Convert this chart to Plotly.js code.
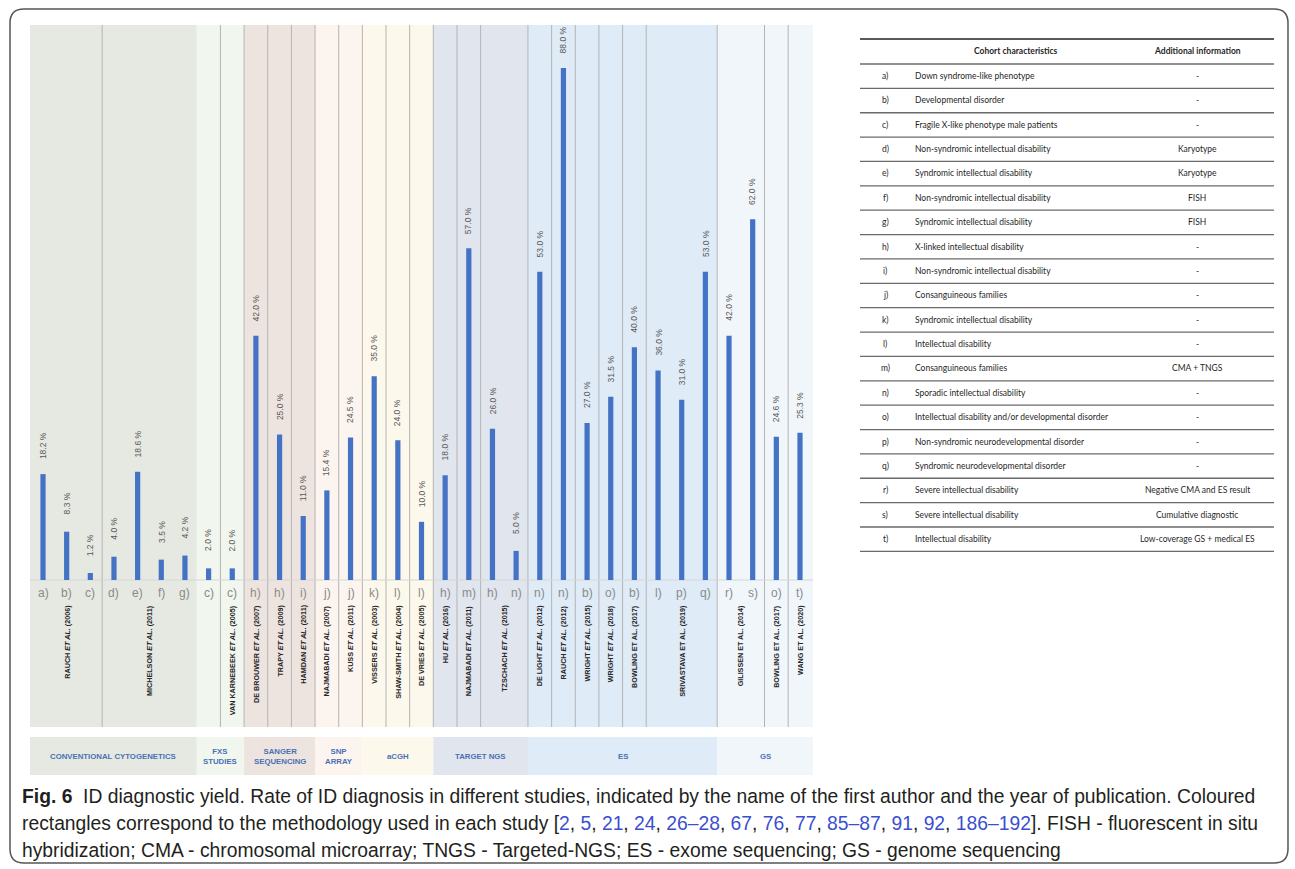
<!DOCTYPE html>
<html>
<head>
<meta charset="utf-8">
<script src="https://cdn.plot.ly/plotly-3.0.1.min.js"></script>
<style>html,body{margin:0;padding:0;background:#fff;}#chart{width:1295px;height:869px;}</style>
</head>
<body>
<div id="chart"></div>
<script>
// ---------------- DATA ----------------
const cohortLetters = ['a)','b)','c)','d)','e)','f)','g)','c)','c)','h)','h)','i)','j)','j)','k)','l)','l)','h)','m)','h)','n)','n)','n)','b)','o)','b)','l)','p)','q)','r)','s)','o)','t)'];
const yields = [18.2,8.3,1.2,4.0,18.6,3.5,4.2,2.0,2.0,42.0,25.0,11.0,15.4,24.5,35.0,24.0,10.0,18.0,57.0,26.0,5.0,53.0,88.0,27.0,31.5,40.0,36.0,31.0,53.0,42.0,62.0,24.6,25.3];

const studyAuthors = ['RAUCH','MICHELSON','','VAN KARNEBEEK','DE BROUWER','TRAPY','HAMDAN','NAJMABADI','KUSS','VISSERS','SHAW-SMITH','DE VRIES','HU','NAJMABADI','TZSCHACH','DE LIGHT','RAUCH','WRIGHT','WRIGHT','BOWLING','SRIVASTAVA','GILISSEN','BOWLING','WANG'];
const studyYears   = ['2006','2011','','2005','2007','2009','2011','2007','2011','2003','2004','2005','2016','2011','2015','2012','2012','2015','2018','2017','2019','2014','2017','2020'];
const studyItalic  = [1,1,1,1,1,1,1,1,1,1,1,1,1,1,1,1,1,1,1,0,0,0,0,0];
const studyFirst   = [0,3,7,8,9,10,11,12,13,14,15,16,17,18,19,21,22,23,24,25,26,29,31,32];
const studyLast    = [2,6,7,8,9,10,11,12,13,14,15,16,17,18,20,21,22,23,24,25,28,30,31,32];

const methodNames  = ['CONVENTIONAL CYTOGENETICS','FXS<br>STUDIES','SANGER<br>SEQUENCING','SNP<br>ARRAY','aCGH','TARGET NGS','ES','GS'];
const methodFirst  = [0,7,9,12,14,17,21,29];
const methodLast   = [6,8,11,13,16,20,28,32];
const methodColors = ['#e5e9e2','#f1f6ee','#ede4e0','#fcf4ee','#fdf8ec','#e1e5ee','#dfebf6','#f1f6fb'];

const tableLetters = ['a)','b)','c)','d)','e)','f)','g)','h)','i)','j)','k)','l)','m)','n)','o)','p)','q)','r)','s)','t)'];
const tableCohort = ['Down syndrome-like phenotype','Developmental disorder','Fragile X-like phenotype male patients','Non-syndromic intellectual disability','Syndromic intellectual disability','Non-syndromic intellectual disability','Syndromic intellectual disability','X-linked intellectual disability','Non-syndromic intellectual disability','Consanguineous families','Syndromic intellectual disability','Intellectual disability','Consanguineous families','Sporadic intellectual disability','Intellectual disability and/or developmental disorder','Non-syndromic neurodevelopmental disorder','Syndromic neurodevelopmental disorder','Severe intellectual disability','Severe intellectual disability','Intellectual disability'];
const tableInfo = ['-','-','-','Karyotype','Karyotype','FISH','FISH','-','-','-','-','-','CMA + TNGS','-','-','-','-','Negative CMA and ES result','Cumulative diagnostic','Low-coverage GS + medical ES'];

const captionLines = [
  '<b>Fig. 6</b>  ID diagnostic yield. Rate of ID diagnosis in different studies, indicated by the name of the first author and the year of publication. Coloured',
  'rectangles correspond to the methodology used in each study [<span style="color:#3a4fd0">2</span>, <span style="color:#3a4fd0">5</span>, <span style="color:#3a4fd0">21</span>, <span style="color:#3a4fd0">24</span>, <span style="color:#3a4fd0">26–28</span>, <span style="color:#3a4fd0">67</span>, <span style="color:#3a4fd0">76</span>, <span style="color:#3a4fd0">77</span>, <span style="color:#3a4fd0">85–87</span>, <span style="color:#3a4fd0">91</span>, <span style="color:#3a4fd0">92</span>, <span style="color:#3a4fd0">186–192</span>]. FISH - fluorescent in situ',
  'hybridization; CMA - chromosomal microarray; TNGS - Targeted-NGS; ES - exome sequencing; GS - genome sequencing'
];

// ---------------- LAYOUT HELPERS ----------------
const W = 1295, H = 869;
const P = x => x / W;
const Q = y => 1 - y / H;
const plotLeft = 30, plotRight = 813, plotTop = 25, plotBottom = 727;
const xRange = [-0.55, yields.length - 0.45];
const pxPerUnit = (580 - 68) / 88;
const yRange = [-(plotBottom - 580) / pxPerUnit, (580 - plotTop) / pxPerUnit];

const shapes = [];
const annotations = [];

// method background bands (plot area + bottom row)
methodNames.forEach((m, i) => {
  const x0 = i === 0 ? xRange[0] : methodFirst[i] - 0.5;
  const x1 = i === methodNames.length - 1 ? xRange[1] : methodLast[i] + 0.5;
  shapes.push({type:'rect', xref:'x', yref:'paper', x0:x0, x1:x1, y0:Q(plotBottom), y1:Q(plotTop), fillcolor:methodColors[i], line:{width:0}, layer:'below'});
  shapes.push({type:'rect', xref:'x', yref:'paper', x0:x0, x1:x1, y0:Q(775), y1:Q(737), fillcolor:methodColors[i], line:{width:0}, layer:'below'});
  annotations.push({xref:'x', yref:'paper', x:(x0 + x1) / 2, y:Q(756), text:'<b>' + methodNames[i] + '</b>', showarrow:false,
    font:{family:'Liberation Sans, Arial, sans-serif', size:7.8, color:'#4a70b5'}, xanchor:'center', yanchor:'middle'});
});

// study dividers
studyLast.forEach((l, i) => {
  if (i === studyLast.length - 1) return;
  const xb = l + 0.5;
  if (xb === 6.5) return;
  shapes.push({type:'line', xref:'x', yref:'paper', x0:xb, x1:xb, y0:Q(plotBottom), y1:Q(plotTop), line:{color:'#b4b4b4', width:1}, layer:'below'});
});

// baseline
shapes.push({type:'line', xref:'paper', yref:'y', x0:P(plotLeft), x1:P(plotRight), y0:0, y1:0, line:{color:'#d6d6d6', width:1}, layer:'below'});

// study labels (text end aligned just below the cohort letters)
studyAuthors.forEach((a, i) => {
  if (!a) return;
  const etal = studyItalic[i] ? '<i>ET AL.</i>' : 'ET AL.';
  annotations.push({xref:'x', yref:'y', x:(studyFirst[i] + studyLast[i]) / 2, y:0, yshift:-23,
    text:'<b>' + a + ' ' + etal + ' (' + studyYears[i] + ')</b>', textangle:-90, showarrow:false,
    font:{family:'Liberation Sans, Arial, sans-serif', size:7.2, color:'#262626'}, xanchor:'center', yanchor:'top'});
});

// cohort letters and value labels
yields.forEach((v, i) => {
  annotations.push({xref:'x', yref:'y', x:i, y:0, yshift:-13, text:cohortLetters[i], showarrow:false,
    font:{family:'Liberation Sans, Arial, sans-serif', size:12, color:'#8a8a8a'}, xanchor:'center', yanchor:'middle'});
  annotations.push({xref:'x', yref:'y', x:i, y:v, yshift:28, text:v.toFixed(1) + ' %', textangle:-90, showarrow:false,
    font:{family:'Liberation Sans, Arial, sans-serif', size:8.5, color:'#595959'}, xanchor:'center', yanchor:'middle'});
});

// table
const tL = 860, tR = 1274;
const rowStep = (539 - 76) / 19;
shapes.push({type:'line', xref:'paper', yref:'paper', x0:P(tL), x1:P(tR), y0:Q(39), y1:Q(39), line:{color:'#5a5a5a', width:2}});
for (let k = 0; k <= tableLetters.length; k++) {
  const yy = 64 + k * rowStep;
  shapes.push({type:'line', xref:'paper', yref:'paper', x0:P(tL), x1:P(tR), y0:Q(yy), y1:Q(yy), line:{color:'#6a6a6a', width:1.3}});
}
const tFont = {family:'Lato, Carlito, sans-serif', size:8.5, color:'#1f1f1f'};
annotations.push({xref:'paper', yref:'paper', x:P(1016), y:Q(51), text:'<b>Cohort characteristics</b>', showarrow:false, font:tFont, xanchor:'center', yanchor:'middle'});
annotations.push({xref:'paper', yref:'paper', x:P(1197), y:Q(51), text:'<b>Additional information</b>', showarrow:false, font:tFont, xanchor:'center', yanchor:'middle'});
tableLetters.forEach((t, k) => {
  const yy = 76 + k * rowStep;
  annotations.push({xref:'paper', yref:'paper', x:P(885), y:Q(yy), text:t, showarrow:false, font:tFont, xanchor:'center', yanchor:'middle'});
  annotations.push({xref:'paper', yref:'paper', x:P(913), y:Q(yy), text:tableCohort[k], showarrow:false, font:tFont, xanchor:'left', yanchor:'middle'});
  annotations.push({xref:'paper', yref:'paper', x:P(1197), y:Q(yy), text:tableInfo[k], showarrow:false, font:tFont, xanchor:'center', yanchor:'middle'});
});

// outer rounded border
(function(){
  const l = 10, t = 9, r = 1288, b = 863, rr = 14;
  const pt = (x, y) => P(x).toFixed(5) + ',' + Q(y).toFixed(5);
  const path = 'M' + pt(l + rr, t) + ' L' + pt(r - rr, t) + ' Q' + pt(r, t) + ' ' + pt(r, t + rr) +
    ' L' + pt(r, b - rr) + ' Q' + pt(r, b) + ' ' + pt(r - rr, b) +
    ' L' + pt(l + rr, b) + ' Q' + pt(l, b) + ' ' + pt(l, b - rr) +
    ' L' + pt(l, t + rr) + ' Q' + pt(l, t) + ' ' + pt(l + rr, t) + ' Z';
  shapes.push({type:'path', xref:'paper', yref:'paper', path:path, line:{color:'#555555', width:1.5}, fillcolor:'rgba(0,0,0,0)'});
})();

// caption
const capY = [796, 823, 850];
captionLines.forEach((c, i) => {
  annotations.push({xref:'paper', yref:'paper', x:P(20), y:Q(capY[i]), text:c, showarrow:false, align:'left',
    font:{family:'Liberation Sans, Arial, sans-serif', size:19.3, color:'#231f20'}, xanchor:'left', yanchor:'middle'});
});

// ---------------- PLOT ----------------
const trace = {
  type:'bar',
  x: yields.map((_, i) => i),
  y: yields,
  width: 0.22,
  marker:{color:'#4472c4'},
  hoverinfo:'skip'
};

const layout = {
  width: W, height: H,
  margin:{l:0, r:0, t:0, b:0},
  paper_bgcolor:'#ffffff',
  plot_bgcolor:'rgba(0,0,0,0)',
  showlegend:false,
  xaxis:{domain:[P(plotLeft), P(plotRight)], range:xRange, showgrid:false, zeroline:false, showticklabels:false, showline:false, ticks:'', fixedrange:true},
  yaxis:{domain:[Q(plotBottom), Q(plotTop)], range:yRange, showgrid:false, zeroline:false, showticklabels:false, showline:false, ticks:'', fixedrange:true},
  shapes: shapes,
  annotations: annotations
};

Plotly.newPlot('chart', [trace], layout, {displayModeBar:false, staticPlot:true});
</script>
</body>
</html>
